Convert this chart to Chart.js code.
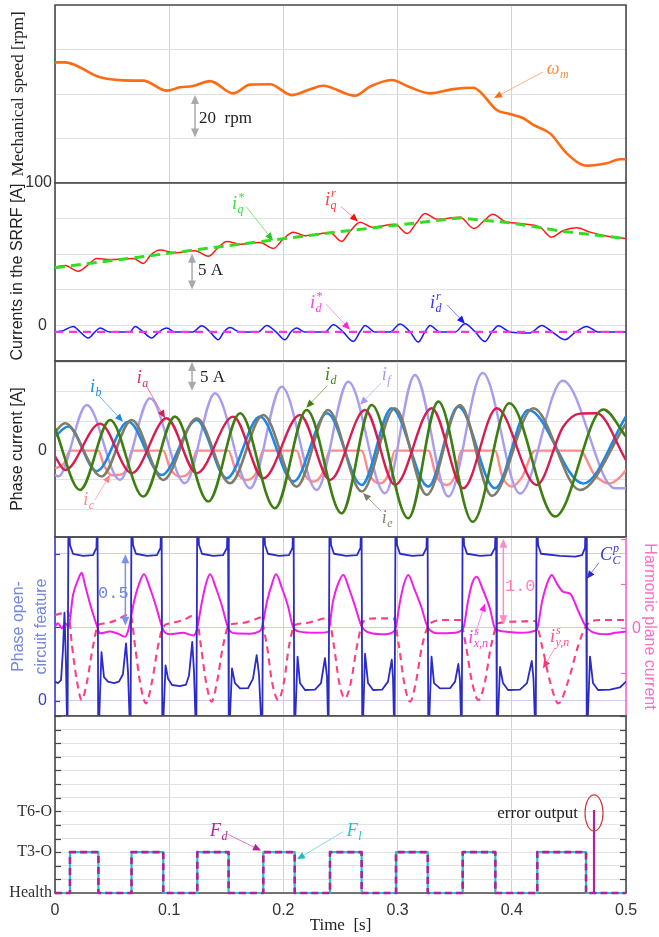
<!DOCTYPE html>
<html><head><meta charset="utf-8">
<script src="https://cdn.jsdelivr.net/npm/chart.js@4.4.1/dist/chart.umd.min.js"></script>
<style>
html,body{margin:0;padding:0;background:#fff;}
#wrap{position:relative;width:659px;height:937px;overflow:hidden;background:#fff;}
canvas{position:absolute;left:0;top:0;}
</style></head><body><div id="wrap">
<canvas id="c1" width="659" height="937"></canvas>
<canvas id="c2" width="659" height="937"></canvas>
<canvas id="c3" width="659" height="937"></canvas>
<canvas id="c4" width="659" height="937"></canvas>
<canvas id="c5" width="659" height="937"></canvas>
</div>
<script>
// ================= DATA =================
const timeTicks = [0, 0.1, 0.2, 0.3, 0.4, 0.5];

// Panel 1: mechanical speed [rpm]
const speedTicks = [100, 120, 140, 160, 180];
const speedRpm = [[0,154.2],[0.0088,154.2],[0.0394,147.5],[0.0683,146.0],[0.0771,146.0],[0.0978,141.5],[0.1095,143.0],[0.1208,143.6],[0.1357,145.8],[0.1561,140.3],[0.1708,144.2],[0.1883,144.4],[0.2073,139.5],[0.2233,142.1],[0.2347,143.7],[0.2627,139.2],[0.2758,143.3],[0.2948,146.3],[0.3109,143.0],[0.3284,140.3],[0.3488,142.2],[0.3663,142.8],[0.3722,141.0],[0.3868,132.8],[0.3984,131.0],[0.4101,129.1],[0.4188,126.1],[0.4335,122.3],[0.4481,113.3],[0.4656,107.8],[0.4831,108.9],[0.4947,110.7],[0.5,110.7]];

// Panel 2: currents in the SRRF [A]
const srrfTicks = [-5, 0, 5, 10, 15, 20];
const iqRef = [[0,8.1],[0.2408,13.0],[0.3546,15.1],[0.3984,14.4],[0.4451,13.2],[0.5,12.2]];
const iqMeas = [[0,8.2],[0.0088,8.4],[0.0204,7.6],[0.0289,8.5],[0.0365,9.4],[0.0482,9.25],[0.0686,9.4],[0.0773,8.7],[0.0841,9.95],[0.0919,10.6],[0.1051,10.2],[0.1226,10.5],[0.1342,9.7],[0.1427,10.9],[0.1503,11.8],[0.1620,11.4],[0.1795,11.65],[0.1912,10.8],[0.1996,12.1],[0.2087,13.1],[0.2189,12.6],[0.2408,13.0],[0.2510,11.8],[0.2583,13.2],[0.2671,14.5],[0.2776,13.8],[0.2977,14.2],[0.3085,12.9],[0.3161,14.3],[0.3240,15.7],[0.3345,14.9],[0.3546,15.2],[0.3669,13.6],[0.3757,14.7],[0.3833,15.6],[0.3940,14.6],[0.4072,14.3],[0.4247,13.8],[0.4349,12.4],[0.4448,13.3],[0.4568,13.7],[0.4685,13.1],[0.4816,12.6],[0.5,12.2]];
const idRef = [[0,-0.9],[0.5,-0.9]];
const idMeas = [[0,-0.93],[0.0061,-0.8],[0.0160,-0.14],[0.0219,-0.9],[0.0292,-1.77],[0.0350,-0.9],[0.0394,-0.37],[0.0482,-0.93],[0.0657,-0.93],[0.0701,-0.14],[0.0771,-0.9],[0.0847,-1.77],[0.0911,-0.9],[0.0978,-0.37],[0.1051,-0.93],[0.1208,-0.93],[0.1285,-0.04],[0.1357,-0.9],[0.1430,-2.0],[0.1480,-0.9],[0.1532,-0.3],[0.1620,-0.93],[0.1778,-0.93],[0.1854,0.0],[0.1935,-0.9],[0.2014,-2.0],[0.2067,-0.9],[0.2116,-0.37],[0.2189,-0.93],[0.2364,-0.93],[0.2437,0.1],[0.2522,-0.9],[0.2612,-2.25],[0.2671,-0.9],[0.2715,0.0],[0.2802,-0.93],[0.2933,-0.93],[0.3021,0.2],[0.3109,-0.9],[0.3181,-2.34],[0.3240,-0.9],[0.3284,0.0],[0.3371,-0.93],[0.3503,-0.93],[0.3590,0.24],[0.3678,-0.9],[0.3765,-2.25],[0.3827,-0.9],[0.3882,-0.04],[0.3984,-0.93],[0.4159,-1.07],[0.4262,0.0],[0.4352,-0.9],[0.4466,-2.0],[0.4553,-1.0],[0.4656,-0.14],[0.4755,-0.93],[0.5,-0.93]];

// Panel 3: phase currents [A]
const phaseTicks = [-10, -5, 0, 5, 10, 15];
const phaseA = [[0,-1.0],[0.0088,-3.3],[0.0394,4.6],[0.0672,-3.85],[0.0978,5.5],[0.1241,-3.85],[0.1561,5.78],[0.1824,-4.71],[0.2145,6.07],[0.2408,-4.99],[0.2715,6.92],[0.2977,-5.84],[0.3299,7.2],[0.3575,-6.41],[0.3868,7.2],[0.4218,-5.84],[0.4451,4.1],[0.4597,6.3],[0.4743,6.35],[0.5,-1.6]];
const phaseB = [[0,2.4],[0.0116,4.1],[0.0365,-3.5],[0.0642,4.9],[0.0934,-4.14],[0.1241,5.22],[0.1503,-4.71],[0.1795,5.78],[0.2087,-5.27],[0.2382,6.35],[0.2686,-5.84],[0.2948,7.2],[0.3269,-6.12],[0.3532,7.48],[0.3853,-6.4],[0.4145,6.9],[0.4626,-5.6],[0.5,5.8]];
const phaseC = [[0,-3.0],[0.0079,-2.2],[0.0131,0],[0.0379,0],[0.0429,-2.5],[0.0495,-4.2],[0.0587,-4.0],[0.0639,-2.5],[0.0672,0],[0.0948,0],[0.1007,-3.0],[0.1095,-4.42],[0.1182,-3.5],[0.1241,0],[0.1518,0],[0.1585,-3.5],[0.1679,-4.99],[0.1760,-3.8],[0.1824,0],[0.2116,0],[0.2180,-3.8],[0.2262,-5.27],[0.2338,-4.0],[0.2408,0],[0.2686,0],[0.2750,-4.0],[0.2846,-5.56],[0.2916,-4.2],[0.2977,0],[0.3269,0],[0.3336,-4.2],[0.3430,-5.84],[0.3503,-4.3],[0.3561,0],[0.3853,0],[0.3915,-4.3],[0.3999,-6.12],[0.4089,-4.5],[0.4203,0],[0.4597,0],[0.4720,-4.0],[0.4860,-5.6],[0.4947,-4.5],[0.5,-3.3]];
const phaseD = [[0,3.8],[0.0219,-6.69],[0.0482,5.22],[0.0773,-7.82],[0.1051,5.78],[0.1342,-8.67],[0.1620,6.35],[0.1926,-9.81],[0.2204,6.92],[0.2510,-10.66],[0.2773,7.77],[0.3094,-11.51],[0.3356,8.33],[0.3658,-12.1],[0.3978,8.05],[0.4379,-11.2],[0.4801,7.0],[0.5,2.4]];
const phaseE = [[0,3.2],[0.0088,4.65],[0.0408,-4.4],[0.0672,5.22],[0.0948,-4.99],[0.1241,5.5],[0.1532,-5.56],[0.1824,6.07],[0.2116,-6.12],[0.2391,6.92],[0.2686,-6.97],[0.2977,7.2],[0.3255,-7.54],[0.3546,7.77],[0.3826,-7.7],[0.4188,7.2],[0.4597,-6.7],[0.5,4.6]];
const phaseF = [[0,-4.1],[0.0029,-4.4],[0.0278,7.77],[0.0569,-4.99],[0.0832,8.9],[0.1138,-5.56],[0.1401,9.75],[0.1708,-6.41],[0.1985,10.88],[0.2292,-6.69],[0.2568,11.73],[0.2890,-7.26],[0.3152,12.87],[0.3444,-7.82],[0.3745,13.2],[0.4072,-7.3],[0.4446,11.9],[0.4904,-6.4],[0.5,-6.4]];

// Panel 4: open-circuit feature (left) and harmonic plane currents (right)
const featureTicks = [0, 0.5, 1.0];
const harmonicTicks = [-0.5, 0, 0.5, 1.0];
const ccp = [[0,0.13],[0.0026,0.12],[0.0053,0.14],[0.0070,0.35],[0.0083,0.60],[0.0096,0.25],[0.0109,-0.3],
[0.0118,1.3],[0.0131,1.06],[0.0158,1.0],[0.0245,0.985],[0.0333,0.99],[0.0363,1.04],[0.0372,1.3],[0.0379,-0.3],
[0.0407,0.33],[0.0429,0.16],[0.0464,0.13],[0.0517,0.12],[0.0560,0.13],[0.0595,0.18],[0.0622,0.39],[0.0639,0.2],[0.0661,-0.3],
[0.0670,1.3],[0.0683,1.06],[0.0709,1.0],[0.0806,0.985],[0.0893,0.99],[0.0924,1.04],[0.0933,1.3],[0.0940,-0.3],
[0.0968,0.24],[0.0990,0.15],[0.1025,0.107],[0.1095,0.10],[0.1147,0.11],[0.1173,0.17],[0.1202,0.40],[0.1217,0.2],[0.1237,-0.3],
[0.1246,1.3],[0.1261,1.06],[0.1287,1.0],[0.1384,0.985],[0.1471,0.99],[0.1506,1.04],[0.1515,1.3],[0.1522,-0.3],
[0.1550,0.22],[0.1576,0.12],[0.1620,0.084],[0.1690,0.085],[0.1734,0.15],[0.1766,0.31],[0.1786,0.18],[0.1815,-0.3],
[0.1824,1.3],[0.1839,1.06],[0.1865,1.0],[0.1962,0.985],[0.2049,0.99],[0.2080,1.04],[0.2089,1.3],[0.2096,-0.3],
[0.2124,0.30],[0.2145,0.12],[0.2189,0.073],[0.2277,0.075],[0.2329,0.12],[0.2364,0.29],[0.2382,0.16],[0.2395,-0.3],
[0.2404,1.3],[0.2417,1.06],[0.2443,1.0],[0.2548,0.985],[0.2645,0.99],[0.2675,1.04],[0.2684,1.3],[0.2691,-0.3],
[0.2715,0.32],[0.2741,0.12],[0.2785,0.073],[0.2864,0.075],[0.2916,0.13],[0.2949,0.28],[0.2960,0.15],[0.2973,-0.3],
[0.2982,1.3],[0.2995,1.06],[0.3021,1.0],[0.3126,0.985],[0.3222,0.99],[0.3253,1.04],[0.3262,1.3],[0.3269,-0.3],
[0.3297,0.30],[0.3319,0.12],[0.3371,0.084],[0.3459,0.085],[0.3503,0.13],[0.3532,0.25],[0.3546,0.14],[0.3561,-0.3],
[0.3570,1.3],[0.3582,1.06],[0.3608,1.0],[0.3722,0.985],[0.3818,0.99],[0.3853,1.04],[0.3862,1.3],[0.3869,-0.3],
[0.3897,0.23],[0.3923,0.12],[0.3967,0.073],[0.4072,0.075],[0.4133,0.12],[0.4175,0.27],[0.4190,0.15],[0.4209,-0.3],
[0.4218,1.3],[0.4230,1.06],[0.4256,1.0],[0.4422,0.985],[0.4554,0.98],[0.4615,0.99],[0.4641,1.04],[0.4650,1.3],[0.4657,-0.3],
[0.4685,0.30],[0.4711,0.12],[0.4755,0.073],[0.4860,0.075],[0.4947,0.09],[0.5,0.13]];
const ixn = [[0,0.02],[0.0026,0.056],[0.0061,0.0],[0.0088,0.056],[0.0118,0.02],[0.0158,0.375],[0.0201,0.543],[0.0234,0.625],[0.0263,0.487],[0.0306,0.28],[0.0365,0.037],[0.0394,-0.056],[0.0482,-0.037],[0.0552,-0.06],[0.0613,-0.094],[0.0642,-0.02],[0.0692,0.3],[0.0736,0.5],[0.0779,0.607],[0.0832,0.45],[0.0884,0.25],[0.0948,-0.019],[0.1007,-0.067],[0.1121,-0.05],[0.1211,-0.08],[0.1241,-0.02],[0.1287,0.3],[0.1322,0.5],[0.1357,0.607],[0.1410,0.45],[0.1462,0.25],[0.1518,0.0],[0.1576,-0.056],[0.1708,-0.06],[0.1778,-0.04],[0.1810,0.0],[0.1856,0.3],[0.1900,0.5],[0.1935,0.607],[0.1988,0.45],[0.2040,0.25],[0.2087,0.007],[0.2145,-0.037],[0.2277,-0.05],[0.2391,-0.04],[0.2434,0.3],[0.2478,0.5],[0.2525,0.60],[0.2574,0.45],[0.2627,0.25],[0.2686,0.02],[0.2758,-0.05],[0.2890,-0.067],[0.2977,-0.02],[0.3021,0.3],[0.3056,0.5],[0.3094,0.60],[0.3144,0.45],[0.3205,0.25],[0.3269,0.0],[0.3371,-0.056],[0.3503,-0.05],[0.3575,0.0],[0.3616,0.3],[0.3651,0.5],[0.3692,0.58],[0.3748,0.43],[0.3809,0.22],[0.3853,0.0],[0.3940,-0.037],[0.4072,-0.05],[0.4218,-0.02],[0.4265,0.3],[0.4308,0.5],[0.4349,0.60],[0.4396,0.5],[0.4451,0.41],[0.4510,0.39],[0.4580,0.2],[0.4641,0.037],[0.4702,-0.04],[0.4834,-0.067],[0.4904,-0.05],[0.5,-0.037]];
const iyn = [[0,0.15],[0.0061,0.17],[0.0114,0.187],[0.0149,-0.2],[0.0193,-0.6],[0.0234,-0.805],[0.0280,-0.6],[0.0333,-0.2],[0.0379,0.037],[0.0438,0.056],[0.0552,0.10],[0.0628,0.15],[0.0661,0.15],[0.0701,-0.2],[0.0744,-0.6],[0.0797,-0.843],[0.0849,-0.6],[0.0902,-0.2],[0.0948,0.019],[0.1007,0.056],[0.1138,0.10],[0.1197,0.139],[0.1235,0.139],[0.1278,-0.2],[0.1322,-0.6],[0.1372,-0.824],[0.1419,-0.6],[0.1471,-0.2],[0.1524,0.037],[0.1620,0.056],[0.1751,0.10],[0.1795,0.12],[0.1856,-0.2],[0.1900,-0.6],[0.1955,-0.805],[0.2005,-0.6],[0.2049,-0.2],[0.2102,0.037],[0.2189,0.056],[0.2320,0.10],[0.2391,0.12],[0.2443,-0.2],[0.2487,-0.6],[0.2539,-0.787],[0.2592,-0.6],[0.2644,-0.2],[0.2700,0.075],[0.2802,0.112],[0.2962,0.112],[0.3012,-0.2],[0.3056,-0.6],[0.3109,-0.824],[0.3161,-0.6],[0.3214,-0.2],[0.3284,0.056],[0.3415,0.094],[0.3546,0.094],[0.3599,-0.2],[0.3651,-0.6],[0.3707,-0.805],[0.3765,-0.6],[0.3818,-0.2],[0.3882,0.056],[0.4028,0.075],[0.4203,0.082],[0.4265,-0.2],[0.4335,-0.6],[0.4408,-0.843],[0.4492,-0.6],[0.4580,-0.2],[0.4656,0.037],[0.4772,0.094],[0.5,0.094]];

// Panel 5: fault diagnosis / location
const stateTicks = [0,1,2,3,4,5,6,7,8,9,10,11,12,13];
const stateLabels = {0:'Health', 3:'T3-O', 6:'T6-O'};
const faultDiag = [[0,0],[0.0131,3],[0.038,0],[0.067,3],[0.0948,0],[0.1246,3],[0.152,0],[0.1824,3],[0.2099,0],[0.2408,3],[0.2685,0],[0.2986,3],[0.3264,0],[0.357,3],[0.3856,0],[0.4223,3],[0.465,0],[0.5,0]];
const faultLoc = [[0,0],[0.0131,3],[0.038,0],[0.067,3],[0.0948,0],[0.1246,3],[0.152,0],[0.1824,3],[0.2099,0],[0.2408,3],[0.2685,0],[0.2986,3],[0.3264,0],[0.357,3],[0.3856,0],[0.4223,3],[0.465,0],[0.5,0]];
const errorOutput = [[0.472,0],[0.472,6.1]];

// ================= LAYOUT / STYLE =================
const W = 659, H = 937, PR = 626, LEFTW = 55, XAXISH = 44;
const panels = [[5,183],[183,361],[361,537],[537,716],[716,893]];
Chart.defaults.font.family = '"Liberation Sans", Arial, sans-serif';
const SERIF = '"Liberation Serif", "DejaVu Serif", serif';
const extras = {};

function pts(a){ return a.map(p => ({x:p[0], y:p[1]})); }
function ds(a, color, w, extra){
  return Object.assign({data: pts(a), borderColor: color, backgroundColor: color, borderWidth: w,
    pointRadius: 0, fill: false, clip: 0, tension: 0}, extra || {});
}
const smooth = {cubicInterpolationMode: 'monotone'};

function xScale(show){
  return {
    type: 'linear', min: 0, max: 0.5,
    afterBuildTicks: s => { s.ticks = timeTicks.map(v => ({value: v})); },
    afterFit: s => { s.height = show ? XAXISH : 0; s.paddingLeft = 0; s.paddingRight = 0; },
    grid: {color: '#d2d2d2', lineWidth: 1, drawTicks: false},
    border: {display: false},
    ticks: {display: show, padding: 8, color: '#333', font: {size: 16}, maxRotation: 0, autoSkip: false,
      callback: v => String(v)},
    title: show ? {display: true, text: 'Time  [s]', color: '#222', font: {family: SERIF, size: 17}, padding: {top: 0, bottom: 1}} : {display: false}
  };
}
function yScale(o){
  return {
    type: 'linear', position: o.pos || 'left', min: o.min, max: o.max,
    afterBuildTicks: s => { s.ticks = o.ticks.map(v => ({value: v})); },
    afterFit: s => { s.width = o.width; s.paddingTop = 0; s.paddingBottom = 0; },
    grid: o.noGrid ? {drawOnChartArea: false, drawTicks: false} : {color: o.gridColor || '#e2e2e2', lineWidth: 1, drawTicks: false},
    border: {display: false},
    ticks: {padding: o.pad, color: o.tickColor || '#333', font: o.tickFont || {size: 16}, autoSkip: false,
      callback: v => (o.labels[v] !== undefined ? o.labels[v] : '')},
    title: {display: !!o.title, text: o.title || '', color: o.titleColor || '#222', font: o.titleFont, padding: {top: o.tpad, bottom: 0}}
  };
}
function baseOpts(idx, hasRight, hasXAxis){
  const [top, bottom] = panels[idx];
  return {
    responsive: false, animation: false, devicePixelRatio: 1, events: [],
    layout: {padding: {top: top, bottom: H - bottom - (hasXAxis ? XAXISH : 0), left: 0, right: hasRight ? 0 : W - PR}},
    plugins: {legend: {display: false}, tooltip: {enabled: false}},
    elements: {point: {radius: 0}, line: {borderJoinStyle: 'round', borderCapStyle: 'butt'}}
  };
}

// ---------- overlay plugin: frame, inward ticks, annotations ----------
function arrowHead(ctx, x1, y1, x2, y2, len, wid, color){
  const a = Math.atan2(y2 - y1, x2 - x1);
  ctx.save(); ctx.translate(x2, y2); ctx.rotate(a);
  ctx.beginPath(); ctx.moveTo(0, 0); ctx.lineTo(-len, wid / 2); ctx.lineTo(-len, -wid / 2); ctx.closePath();
  ctx.fillStyle = color; ctx.fill(); ctx.restore();
}
function drawMath(ctx, x, y, m, color){
  ctx.save();
  ctx.fillStyle = color; ctx.textAlign = 'left'; ctx.textBaseline = 'alphabetic';
  ctx.font = 'italic 18px ' + SERIF;
  ctx.fillText(m.base, x, y);
  const w = ctx.measureText(m.base).width;
  ctx.font = 'italic 12px ' + SERIF;
  if (m.sup) ctx.fillText(m.sup, x + w + 1, y - 8);
  if (m.sub) ctx.fillText(m.sub, x + w + 0.5, y + 4);
  ctx.restore();
}
const overlay = {
  id: 'overlay',
  beforeDatasetsDraw(chart){
    const ex = extras[chart.canvas.id]; if (!ex) return;
    const ctx = chart.ctx, a = chart.chartArea;
    (ex.inticks || []).forEach(it => {
      const sc = chart.scales[it.axis];
      ctx.save(); ctx.strokeStyle = it.color; ctx.lineWidth = 1.2;
      sc.ticks.forEach(tk => {
        const y = Math.round(sc.getPixelForValue(tk.value)) + 0.5;
        const x0 = it.side === 'left' ? a.left : a.right;
        const dx = it.side === 'left' ? it.len : -it.len;
        ctx.beginPath(); ctx.moveTo(x0, y); ctx.lineTo(x0 + dx, y); ctx.stroke();
      });
      ctx.restore();
    });
    const f = ex.frame;
    const seg = (x1, y1, x2, y2, c) => { ctx.strokeStyle = c; ctx.beginPath(); ctx.moveTo(x1, y1); ctx.lineTo(x2, y2); ctx.stroke(); };
    ctx.save(); ctx.lineWidth = f.width;
    seg(a.left - 0.7, a.top, a.right + 0.7, a.top, f.top);
    seg(a.left - 0.7, a.bottom, a.right + 0.7, a.bottom, f.bottom);
    seg(a.left, a.top, a.left, a.bottom, f.left);
    seg(a.right, a.top, a.right, a.bottom, f.right);
    ctx.restore();
  },
  afterDraw(chart){
    const ex = extras[chart.canvas.id]; if (!ex) return;
    const ctx = chart.ctx, xs = chart.scales.x;
    (ex.annots || []).forEach(n => {
      const ys = chart.scales[n.axis || 'y'];
      const X = v => xs.getPixelForValue(v), Y = v => ys.getPixelForValue(v);
      ctx.save();
      if (n.k === 'darrow'){
        const x = X(n.x), y1 = Y(n.y1), y2 = Y(n.y2);
        ctx.strokeStyle = n.color; ctx.lineWidth = 1.5;
        ctx.beginPath(); ctx.moveTo(x, y1 + 7); ctx.lineTo(x, y2 - 7); ctx.stroke();
        arrowHead(ctx, x, y2, x, y1, 9, 8, n.color);
        arrowHead(ctx, x, y1, x, y2, 9, 8, n.color);
      } else if (n.k === 'arrow'){
        const x1 = X(n.x1), y1 = Y(n.y1), x2 = X(n.x2), y2 = Y(n.y2);
        const L = Math.hypot(x2 - x1, y2 - y1), hl = 8;
        ctx.strokeStyle = n.line; ctx.lineWidth = 1;
        ctx.beginPath(); ctx.moveTo(x1, y1); ctx.lineTo(x2 - (x2 - x1) * hl / L, y2 - (y2 - y1) * hl / L); ctx.stroke();
        arrowHead(ctx, x1, y1, x2, y2, hl, 7, n.head);
      } else if (n.k === 'text'){
        ctx.fillStyle = n.color; ctx.font = n.font; ctx.textAlign = n.align || 'left'; ctx.textBaseline = 'alphabetic';
        ctx.fillText(n.text, X(n.x), Y(n.y));
      } else if (n.k === 'math'){
        drawMath(ctx, X(n.x), Y(n.y), n.m, n.color);
      } else if (n.k === 'ellipse'){
        ctx.strokeStyle = n.color; ctx.lineWidth = 1.2;
        ctx.beginPath(); ctx.ellipse(X(n.x), Y(n.y), n.rx, n.ry, 0, 0, Math.PI * 2); ctx.stroke();
      }
      ctx.restore();
    });
  }
};
Chart.register(overlay);

const DARK = '#4a4a4a';
const FR = {width: 1.6, top: DARK, bottom: DARK, left: DARK, right: DARK};
const ANN_FONT = '17px ' + SERIF;

// ---------- Panel 1 ----------
extras.c1 = {frame: FR, annots: [
  {k:'darrow', x:0.1226, y1:139.5, y2:120.5, color:'#a9a9a9'},
  {k:'text', x:0.1261, y:126.8, text:'20  rpm', font:ANN_FONT, color:'#222'},
  {k:'arrow', x1:0.4273, y1:149.9, x2:0.3844, y2:138.2, line:'#ffb27f', head:'#ff6a13'},
  {k:'math', x:0.4306, y:149.0, m:{base:'ω', sub:'m'}, color:'#ff8a3d'}
]};
new Chart(document.getElementById('c1'), {
  type: 'line',
  data: {datasets: [ds(speedRpm, '#ff6a13', 2.6, smooth)]},
  options: Object.assign(baseOpts(0, false, false), {scales: {
    x: xScale(false),
    y: yScale({min:100, max:180, ticks:speedTicks, labels:{100:'100'}, width:LEFTW, pad:3,
      title:'Mechanical speed [rpm]', titleFont:{family:SERIF, size:17}, tpad:8})
  }})
});

// ---------- Panel 2 ----------
extras.c2 = {frame: FR, annots: [
  {k:'darrow', x:0.12, y1:10.05, y2:5.05, color:'#a9a9a9'},
  {k:'text', x:0.1252, y:7.14, text:'5 A', font:ANN_FONT, color:'#222'},
  {k:'math', x:0.155, y:16.3, m:{base:'i', sub:'q', sup:'*'}, color:'#3ee03e'},
  {k:'arrow', x1:0.1673, y1:16.7, x2:0.1909, y2:11.9, line:'#7ee87e', head:'#22cc22'},
  {k:'math', x:0.2364, y:16.9, m:{base:'i', sub:'q', sup:'r'}, color:'#ff3b3b'},
  {k:'arrow', x1:0.2504, y1:16.7, x2:0.2653, y2:14.6, line:'#ff9090', head:'#ee1111'},
  {k:'math', x:0.2233, y:2.5, m:{base:'i', sub:'d', sup:'*'}, color:'#ff40e0'},
  {k:'arrow', x1:0.2373, y1:3.0, x2:0.2583, y2:-0.6, line:'#ff99ee', head:'#ff22dd'},
  {k:'math', x:0.3284, y:2.5, m:{base:'i', sub:'d', sup:'r'}, color:'#3030ff'},
  {k:'arrow', x1:0.3433, y1:2.9, x2:0.359, y2:0.24, line:'#8080ff', head:'#1a1aee'}
]};
new Chart(document.getElementById('c2'), {
  type: 'line',
  data: {datasets: [
    ds(idRef, '#ff33dd', 2.2, {borderDash:[8,6]}),
    ds(iqRef, '#33dd22', 3, {borderDash:[10,6]}),
    ds(iqMeas, '#ff1a1a', 1.5, smooth),
    ds(idMeas, '#1a1aff', 1.5, smooth)
  ]},
  options: Object.assign(baseOpts(1, false, false), {scales: {
    x: xScale(false),
    y: yScale({min:-5, max:20, ticks:srrfTicks, labels:{0:'0'}, width:LEFTW, pad:8,
      title:'Currents in the SRRF [A]', titleFont:{size:16}, tpad:8})
  }})
});

// ---------- Panel 3 ----------
extras.c3 = {frame: FR, annots: [
  {k:'darrow', x:0.12, y1:15.1, y2:10.2, color:'#a9a9a9'},
  {k:'text', x:0.127, y:11.7, text:'5 A', font:ANN_FONT, color:'#222'},
  {k:'math', x:0.0306, y:10.0, m:{base:'i', sub:'b'}, color:'#1e88e5'},
  {k:'arrow', x1:0.0377, y1:9.5, x2:0.0595, y2:4.9, line:'#6fb4f0', head:'#1e88e5'},
  {k:'math', x:0.0715, y:11.5, m:{base:'i', sub:'a'}, color:'#e0285c'},
  {k:'arrow', x1:0.0806, y1:10.8, x2:0.0963, y2:5.5, line:'#ea7a9a', head:'#d81b50'},
  {k:'math', x:0.0248, y:-9.2, m:{base:'i', sub:'c'}, color:'#ff8a8a'},
  {k:'arrow', x1:0.035, y1:-8.4, x2:0.0482, y2:-4.1, line:'#ffb0b0', head:'#ff8080'},
  {k:'math', x:0.2364, y:12.0, m:{base:'i', sub:'d'}, color:'#3d8a10'},
  {k:'arrow', x1:0.2382, y1:11.0, x2:0.22, y2:7.3, line:'#8ab86a', head:'#3d7e10'},
  {k:'math', x:0.2861, y:12.0, m:{base:'i', sub:'f'}, color:'#a598ee'},
  {k:'arrow', x1:0.2855, y1:11.5, x2:0.2671, y2:7.8, line:'#c6befa', head:'#a598ee'},
  {k:'math', x:0.2861, y:-12.3, m:{base:'i', sub:'e'}, color:'#858575'},
  {k:'arrow', x1:0.2855, y1:-10.3, x2:0.2697, y2:-7.2, line:'#aaaaa0', head:'#7c7c6a'}
]};
new Chart(document.getElementById('c3'), {
  type: 'line',
  data: {datasets: [
    ds(phaseD, '#3d7e10', 2.6, smooth),
    ds(phaseA, '#d81b50', 2.4, smooth),
    ds(phaseE, '#7d7d6a', 2.6, smooth),
    ds(phaseB, '#1e88e5', 2.6, smooth),
    ds(phaseF, '#a99cef', 2.4, smooth),
    ds(phaseC, '#ff8a8a', 2.4, smooth)
  ]},
  options: Object.assign(baseOpts(2, false, false), {scales: {
    x: xScale(false),
    y: yScale({min:-14.7, max:15.25, ticks:phaseTicks, labels:{0:'0'}, width:LEFTW, pad:8,
      title:'Phase current [A]', titleFont:{size:16}, tpad:8})
  }})
});

// ---------- Panel 4 ----------
extras.c4 = {
  frame: {width: 1.6, top: DARK, bottom: DARK, left: '#3a3ad6', right: '#ff66cc'},
  inticks: [{axis:'y', side:'left', color:'#3a3ad6', len:5}, {axis:'y2', side:'right', color:'#ff66cc', len:5}],
  annots: [
  {k:'darrow', x:0.0616, y1:0.996, y2:0.51, color:'#7b93e6'},
  {k:'text', x:0.0377, y:0.70, text:'0.5', font:'17px "Liberation Mono", monospace', color:'#6f85e0'},
  {k:'darrow', axis:'y2', x:0.3926, y1:1.006, y2:0.045, color:'#ff8cc6'},
  {k:'text', axis:'y2', x:0.394, y:0.42, text:'1.0', font:'17px "Liberation Mono", monospace', color:'#ff80c0'},
  {k:'math', x:0.4772, y:0.957, m:{base:'C', sub:'C', sup:'p'}, color:'#3a3ad6'},
  {k:'arrow', x1:0.4763, y1:0.94, x2:0.4658, y2:0.83, line:'#7a7ae6', head:'#2b2bc8'},
  {k:'math', axis:'y2', x:0.3619, y:-0.17, m:{base:'i', sub:'x,n', sup:'s'}, color:'#ff3ce0'},
  {k:'arrow', axis:'y2', x1:0.3678, y1:-0.075, x2:0.3765, y2:0.28, line:'#ff88ee', head:'#ff22dd'},
  {k:'math', axis:'y2', x:0.4335, y:-0.15, m:{base:'i', sub:'y,n', sup:'s'}, color:'#ff4f8f'},
  {k:'arrow', axis:'y2', x1:0.4378, y1:-0.22, x2:0.4273, y2:-0.45, line:'#ff99bb', head:'#ff3377'}
]};
new Chart(document.getElementById('c4'), {
  type: 'line',
  data: {datasets: [
    ds(ccp, '#2b2bc8', 1.8, {yAxisID:'y'}),
    ds(ixn, '#f01ee6', 2, Object.assign({yAxisID:'y2'}, smooth)),
    ds(iyn, '#ff3d7f', 2.1, Object.assign({yAxisID:'y2', borderDash:[7,5]}, smooth))
  ]},
  options: Object.assign(baseOpts(3, true, false), {scales: {
    x: xScale(false),
    y: yScale({min:-0.104, max:1.114, ticks:featureTicks, labels:{0:'0'}, width:LEFTW, pad:8,
      gridColor:'#cdcdf3', tickColor:'#3a3ad6',
      title:['Phase open-', 'circuit feature'], titleColor:'#7386e0', titleFont:{size:16, lineHeight:'23px'}, tpad:7}),
    y2: yScale({pos:'right', min:-0.985, max:1.026, ticks:harmonicTicks, labels:{0:'0'}, width:W - PR, pad:6, noGrid:true,
      tickColor:'#ff5fb8', title:'Harmonic plane current', titleColor:'#ff6ec7', titleFont:{size:16}, tpad:0})
  }})
});

// ---------- Panel 5 ----------
extras.c5 = {
  frame: FR,
  inticks: [{axis:'y', side:'left', color:'#444', len:6}, {axis:'y', side:'right', color:'#444', len:6}],
  annots: [
  {k:'math', x:0.1357, y:4.17, m:{base:'F', sub:'d'}, color:'#b0229c'},
  {k:'arrow', x1:0.1515, y1:4.3, x2:0.1804, y2:3.12, line:'#d77ccb', head:'#b0229c'},
  {k:'math', x:0.2554, y:4.17, m:{base:'F', sub:'l'}, color:'#1fc4c4'},
  {k:'arrow', x1:0.2522, y1:4.5, x2:0.2119, y2:2.47, line:'#7fdede', head:'#1fbcbc'},
  {k:'text', x:0.458, y:5.5, text:'error output', font:ANN_FONT, color:'#222', align:'right'},
  {k:'ellipse', x:0.472, y:5.88, rx:9, ry:18, color:'#d03a3a'}
]};
new Chart(document.getElementById('c5'), {
  type: 'line',
  data: {datasets: [
    ds(errorOutput, '#b0229c', 2.2, {clip: 3}),
    ds(faultDiag, '#b0229c', 2.6, {stepped:'before', borderDash:[7,4], clip: 3}),
    ds(faultLoc, '#22c4c4', 2.2, {stepped:'before', clip: 3})
  ]},
  options: Object.assign(baseOpts(4, false, true), {scales: {
    x: xScale(true),
    y: yScale({min:0, max:13, ticks:stateTicks, labels:stateLabels, width:LEFTW, pad:3,
      tickFont:{family:SERIF, size:16}, gridColor:'#e2e2e2', title:'', titleFont:{size:16}, tpad:0})
  }})
});
</script>
</body></html>
